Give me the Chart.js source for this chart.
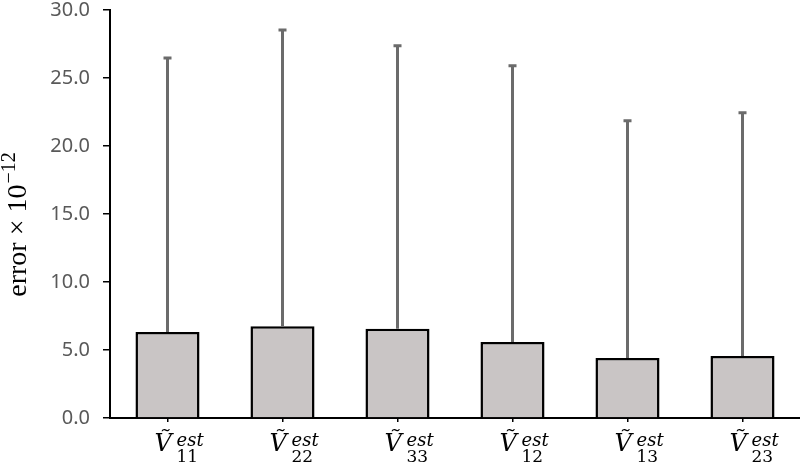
<!DOCTYPE html>
<html>
<head>
<meta charset="utf-8">
<script src="https://cdn.jsdelivr.net/npm/chart.js@4"></script>
<style>
  html, body { margin: 0; padding: 0; background: #fff; }
</style>
</head>
<body>
<canvas id="chartBar" width="800" height="463"></canvas>
<script>
// index pairs shown under each bar (V~ est, subscript)
const categories = ["11", "22", "33", "12", "13", "23"];
// mean error (x 10^-12)
const meanError = [6.32, 6.74, 6.57, 5.59, 4.41, 4.56];
// upper error bar length
const errorUp = [20.15, 21.79, 20.81, 20.31, 17.45, 17.89];
const yTicks = [0, 5, 10, 15, 20, 25, 30];

// draws the upper error bars on top of the bars
const errorBars = {
  id: "errorBars",
  afterDatasetsDraw(chart) {
    const ctx = chart.ctx;
    const y = chart.scales.y;
    const meta = chart.getDatasetMeta(0);
    ctx.save();
    ctx.strokeStyle = "#6b6b6b";
    ctx.lineWidth = 3;
    meta.data.forEach((bar, i) => {
      const y0 = y.getPixelForValue(meanError[i]);
      const y1 = y.getPixelForValue(meanError[i] + errorUp[i]);
      ctx.beginPath();
      ctx.moveTo(bar.x, y0);
      ctx.lineTo(bar.x, y1);
      ctx.moveTo(bar.x - 4, y1);
      ctx.lineTo(bar.x + 4, y1);
      ctx.stroke();
    });
    ctx.restore();
  },
};

// math style tick labels and the y axis title
const mathLabels = {
  id: "mathLabels",
  afterDraw(chart) {
    const ctx = chart.ctx;
    const x = chart.scales.x;
    ctx.save();
    ctx.fillStyle = "#000";
    ctx.textBaseline = "alphabetic";
    ctx.textAlign = "left";
    categories.forEach((sub, i) => {
      const px = x.getPixelForTick(i);
      ctx.font = "italic 24px 'DejaVu Serif'";
      ctx.fillText("\u1E7C", px - 13, 451);
      ctx.font = "italic 18px 'DejaVu Serif'";
      ctx.fillText("est", px + 9, 446);
      ctx.font = "17px 'DejaVu Serif'";
      ctx.fillText(sub, px + 9, 462);
    });

    // y axis title, rotated
    ctx.translate(26, 225);
    ctx.rotate(-Math.PI / 2);
    const main = "error \u00D7 10";
    ctx.font = "28px 'Liberation Serif'";
    const w1 = ctx.measureText(main).width;
    ctx.font = "20px 'Liberation Serif'";
    const w2 = ctx.measureText("\u221212").width;
    const start = -(w1 + w2) / 2;
    ctx.font = "28px 'Liberation Serif'";
    ctx.fillText(main, start, 0);
    ctx.font = "20px 'Liberation Serif'";
    ctx.fillText("\u221212", start + w1 + 1, -11);
    ctx.restore();
  },
};

const config = {
  type: "bar",
  data: {
    labels: categories,
    datasets: [
      {
        data: meanError,
        backgroundColor: "#c9c5c5",
        borderColor: "#000",
        borderWidth: 2.5,
        borderSkipped: "bottom",
        barPercentage: 0.557,
        categoryPercentage: 1,
      },
    ],
  },
  options: {
    responsive: false,
    animation: false,
    layout: { padding: { top: 10, right: 0, left: 0, bottom: 0 } },
    plugins: { legend: { display: false }, tooltip: { enabled: false } },
    scales: {
      x: {
        offset: true,
        grid: {
          offset: false,
          drawOnChartArea: false,
          drawTicks: true,
          tickLength: 4,
          color: "#000",
          lineWidth: 1.5,
        },
        border: { color: "#000", width: 2 },
        ticks: { display: false },
        afterFit(scale) {
          scale.height = 45;
          scale.paddingLeft = 0;
          scale.paddingRight = 0;
        },
      },
      y: {
        min: 0,
        max: 30,
        afterBuildTicks(scale) {
          scale.ticks = yTicks.map((v) => ({ value: v }));
        },
        ticks: {
          callback: (v) => Number(v).toFixed(1),
          color: "#595959",
          font: { family: "'Noto Sans'", size: 20 },
          padding: 13,
        },
        grid: {
          drawOnChartArea: false,
          drawTicks: true,
          tickLength: 7,
          color: "#000",
          lineWidth: 1.5,
        },
        border: { color: "#000", width: 2 },
        afterFit(scale) {
          scale.width = 110;
          scale.paddingTop = 0;
          scale.paddingBottom = 0;
        },
      },
    },
  },
  plugins: [errorBars, mathLabels],
};

new Chart(document.getElementById("chartBar"), config);
</script>
</body>
</html>
